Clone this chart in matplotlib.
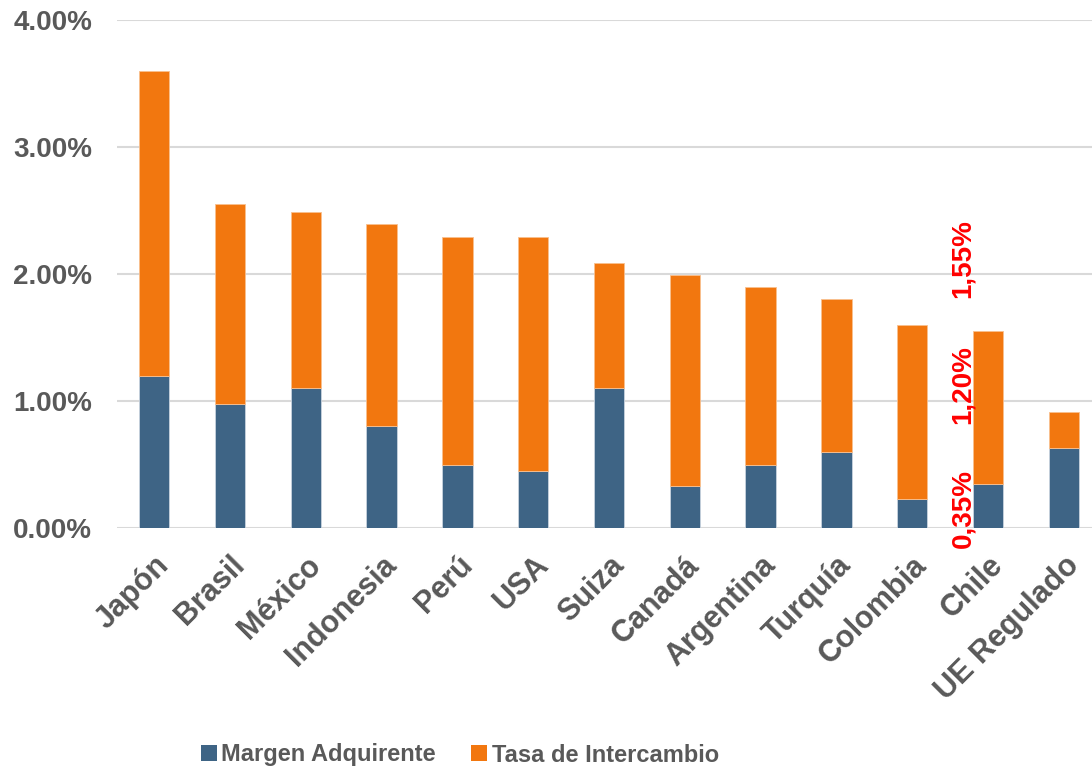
import matplotlib
matplotlib.use("Agg")
import matplotlib.pyplot as plt
from matplotlib.patches import Patch

categories = ["Japón", "Brasil", "México", "Indonesia", "Perú", "USA", "Suiza",
              "Canadá", "Argentina", "Turquía", "Colombia", "Chile", "UE Regulado"]
margen = [1.20, 0.98, 1.10, 0.80, 0.50, 0.45, 1.10, 0.33, 0.50, 0.60, 0.23, 0.35, 0.63]
total = [3.60, 2.55, 2.49, 2.39, 2.29, 2.29, 2.09, 1.99, 1.90, 1.80, 1.60, 1.55, 0.91]
tasa = [t - m for t, m in zip(total, margen)]
yticks = [0, 1, 2, 3, 4]
ytick_labels = ["0.00%", "1.00%", "2.00%", "3.00%", "4.00%"]
annot_texts = ["1,55%", "1,20%", "0,35%"]
annot_y = [2.12, 1.13, 0.15]

plt.rcParams["font.family"] = ["Liberation Sans", "DejaVu Sans"]
plt.rcParams["font.weight"] = "bold"

W, H = 1092, 777
fig = plt.figure(figsize=(W / 100, H / 100), dpi=100)
left, right, bottom, top = 117, 1101, 528, 20
ax = fig.add_axes([left / W, (H - bottom) / H, (right - left) / W, (bottom - top) / H])

blue = "#3E6485"
orange = "#F2770F"
grey = "#595959"
x = list(range(len(categories)))
ax.bar(x, margen, width=0.4, color=blue, edgecolor="#c9d3de", linewidth=0.6, zorder=3)
ax.bar(x, tasa, bottom=margen, width=0.4, color=orange, edgecolor="#f9c08f", linewidth=0.6, zorder=3)

ax.set_xlim(-0.49, len(categories) - 0.51)
ax.set_ylim(0, 4)
ax.set_yticks(yticks)
ax.set_yticklabels(ytick_labels, fontsize=20, color=grey, fontweight="bold")
ax.grid(axis="y", color="#d9d9d9", linewidth=1.5, zorder=0)
for s in ax.spines.values():
    s.set_visible(False)
ax.tick_params(axis="y", length=0, pad=18)
ax.tick_params(axis="x", length=0, pad=16)
ax.set_xticks(x)
ax.set_xticklabels(categories, rotation=45, ha="right", rotation_mode="anchor",
                   fontsize=22, color=grey, fontweight="bold")

for t, yv in zip(annot_texts, annot_y):
    ax.text(11 - 0.33, yv, t, rotation=90, color="red", fontsize=20,
            fontweight="bold", ha="center", va="center", clip_on=False, zorder=5)

handles = [Patch(facecolor=blue), Patch(facecolor=orange)]
fig.legend(handles, ["Margen Adquirente", "Tasa de Intercambio"], loc="center",
           bbox_to_anchor=(460 / W, 1 - 755 / H), ncol=2, frameon=False,
           prop={"family": ["Liberation Sans", "DejaVu Sans"], "weight": "bold", "size": 17},
           labelcolor=grey, handlelength=0.65, handleheight=0.65, handletextpad=0.2,
           columnspacing=1.5, borderpad=0)

fig.savefig("out.png", dpi=100)
